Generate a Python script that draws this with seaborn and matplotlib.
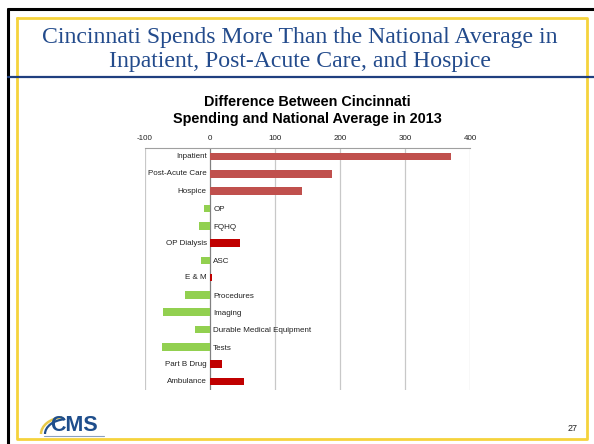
import matplotlib
matplotlib.use("Agg")
import matplotlib.pyplot as plt
import seaborn as sns
import pandas as pd
from matplotlib.lines import Line2D
from matplotlib.patches import Arc

categories = ["Inpatient", "Post-Acute Care", "Hospice", "OP", "FQHQ", "OP Dialysis",
              "ASC", "E & M", "Procedures", "Imaging", "Durable Medical Equipment",
              "Tests", "Part B Drug", "Ambulance"]
values = [370, 187, 141, -9, -17, 46, -14, 3, -38, -72, -23, -74, 18, 53]
bar_colors = ["#C0504D", "#C0504D", "#C0504D", "#92D050", "#92D050", "#C00000",
              "#92D050", "#C00000", "#92D050", "#92D050", "#92D050", "#92D050",
              "#C00000", "#C00000"]
x_ticks = [-100, 0, 100, 200, 300, 400]

sns.set_style("white")
plt.rcParams['font.family'] = ['Liberation Sans', 'DejaVu Sans']

W, H = 5.94, 4.44
fig = plt.figure(figsize=(W, H), dpi=100)
fig.patch.set_facecolor("white")

def fx(px):
    return px / 594.0

def fy(py):
    return 1 - py / 444.0

# slide frame
fig.add_artist(Line2D([fx(8), fx(8)], [fy(9), fy(444)], color="black", lw=2.2, transform=fig.transFigure))
fig.add_artist(Line2D([fx(8), fx(594)], [fy(9), fy(9)], color="black", lw=2.2, transform=fig.transFigure))
yel = "#F5D33C"
fig.add_artist(Line2D([fx(17), fx(587), fx(587), fx(17), fx(17)],
                      [fy(18), fy(18), fy(439), fy(439), fy(18)], color=yel, lw=2.0, transform=fig.transFigure))
fig.add_artist(Line2D([fx(8), fx(594)], [fy(77), fy(77)], color="#1F3F7F", lw=1.6, transform=fig.transFigure))

title_color = "#234B8C"
fig.text(fx(300), fy(38), "Cincinnati Spends More Than the National Average in",
         ha="center", va="center", fontsize=17.1, color=title_color, family="Liberation Serif")
fig.text(fx(300), fy(62), "Inpatient, Post-Acute Care, and Hospice",
         ha="center", va="center", fontsize=17.1, color=title_color, family="Liberation Serif")

fig.text(fx(307), fy(102), "Difference Between Cincinnati", ha="center", va="center",
         fontsize=10.4, fontweight="bold", color="black")
fig.text(fx(307), fy(119), "Spending and National Average in 2013", ha="center", va="center",
         fontsize=10.4, fontweight="bold", color="black")

# chart
ax = fig.add_axes([fx(145), fy(390), (470 - 145) / 594.0, 242 / 444.0])
df = pd.DataFrame({"category": categories, "value": values})
sns.barplot(data=df, x="value", y="category", hue="category", palette=bar_colors,
            legend=False, orient="h", width=0.44, ax=ax, saturation=1, linewidth=0, zorder=2)
ax.set_xlim(-100, 400)
ax.set_ylim(13.5, -0.5)
ax.set_xticks(x_ticks)
ax.set_xticklabels([str(t) for t in x_ticks])
ax.xaxis.tick_top()
ax.tick_params(axis="x", length=0, pad=4, labelsize=5.8, labelcolor="#222222")
ax.set_yticks([])
ax.set_xlabel("")
ax.set_ylabel("")
for s in ["right", "bottom", "left"]:
    ax.spines[s].set_visible(False)
ax.spines["top"].set_color("#A0A0A0")
ax.spines["top"].set_linewidth(0.8)
for t in x_ticks:
    if t == 0:
        continue
    ax.axvline(t, color="#C8C8C8", lw=0.9, zorder=0)
ax.axvline(0, color="#808080", lw=0.9, zorder=1)

for i, (c, v) in enumerate(zip(categories, values)):
    if v >= 0:
        ax.text(-5, i, c, ha="right", va="center", fontsize=5.8, color="#222222")
    else:
        ax.text(5, i + 0.08, c, ha="left", va="center", fontsize=5.8, color="#222222")

# CMS logo approximation
fig.text(fx(74), fy(425), "CMS", ha="center", va="center", fontsize=15.5, fontweight="bold",
         color="#1F4E8C", family="Liberation Sans")
fig.add_artist(Arc((fx(66), fy(434)), fx(50), 34 / 444.0, theta1=100, theta2=180,
                   color="#E8C94A", lw=1.8, transform=fig.transFigure))
fig.add_artist(Arc((fx(68), fy(434)), fx(46), 30 / 444.0, theta1=100, theta2=180,
                   color="#1F4E8C", lw=1.6, transform=fig.transFigure))
fig.add_artist(Line2D([fx(44), fx(104)], [fy(436), fy(436)], color="#8AA0C0", lw=0.8, transform=fig.transFigure))

fig.text(fx(573), fy(428), "27", ha="center", va="center", fontsize=6.5, color="#222222")

fig.savefig("out.png", dpi=100, facecolor="white")
